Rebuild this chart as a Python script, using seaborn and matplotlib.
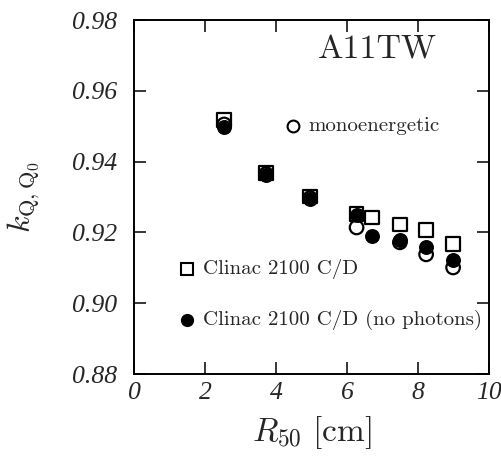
import matplotlib
matplotlib.use("Agg")
import matplotlib.pyplot as plt
import seaborn as sns
import pandas as pd

# ---- data ----
r50_clinac = [2.54, 3.72, 4.96, 6.27, 6.70, 7.49, 8.23, 8.99]
k_clinac = [0.9518, 0.9368, 0.9301, 0.9252, 0.9242, 0.9223, 0.9207, 0.9168]
r50_nophot = [2.54, 3.72, 4.96, 6.27, 6.70, 7.49, 8.23, 8.99]
k_nophot = [0.9497, 0.9363, 0.9294, 0.9250, 0.9191, 0.9178, 0.9159, 0.9121]
r50_mono = [2.54, 3.72, 4.96, 6.27, 7.49, 8.23, 8.99]
k_mono = [0.9505, 0.9365, 0.9297, 0.9214, 0.9172, 0.9138, 0.9101]

x_ticks = [0, 2, 4, 6, 8, 10]
y_ticks = [0.88, 0.90, 0.92, 0.94, 0.96, 0.98]
x_tick_labels = ["0", "2", "4", "6", "8", "10"]
y_tick_labels = ["0.88", "0.90", "0.92", "0.94", "0.96", "0.98"]

sns.set_style("ticks")
plt.rcParams["mathtext.fontset"] = "cm"
plt.rcParams["font.family"] = ["DejaVu Serif"]

fig = plt.figure(figsize=(5.02, 4.57), dpi=100)
ax = fig.add_axes([0.267, 0.1816, 0.707, 0.7746])

df_mono = pd.DataFrame({"x": r50_mono, "y": k_mono})
df_clinac = pd.DataFrame({"x": r50_clinac, "y": k_clinac})
df_noph = pd.DataFrame({"x": r50_nophot, "y": k_nophot})

ms = 95
sns.scatterplot(data=df_mono, x="x", y="y", ax=ax, marker="o", s=ms,
                facecolor="none", edgecolor="black", linewidth=1.6, zorder=3)
sns.scatterplot(data=df_clinac, x="x", y="y", ax=ax, marker="s", s=ms,
                facecolor="none", edgecolor="black", linewidth=1.6, zorder=4)
sns.scatterplot(data=df_noph, x="x", y="y", ax=ax, marker="o", s=ms,
                color="black", edgecolor="black", linewidth=1.0, zorder=5)

ax.set_xlim(0, 10)
ax.set_ylim(0.88, 0.98)
ax.set_xticks(x_ticks)
ax.set_yticks(y_ticks)
ax.set_xticklabels(x_tick_labels, fontfamily="Liberation Serif", fontstyle="italic", fontsize=18.5)
ax.set_yticklabels(y_tick_labels, fontfamily="Liberation Serif", fontstyle="italic", fontsize=18.5)
ax.tick_params(direction="in", length=8.5, width=1.3, top=True, right=True)
ax.tick_params(axis="y", pad=12)
ax.tick_params(axis="x", pad=6)
for s in ax.spines.values():
    s.set_visible(True)
    s.set_linewidth(1.4)
    s.set_color("black")

ax.set_xlabel(r"$R_{50}\ [\mathrm{cm}]$", fontsize=24, labelpad=7)
ax.set_ylabel(r"$k_{\mathrm{Q,Q_0}}$", fontsize=23, labelpad=22)

# in-plot key
txt_kw = dict(fontfamily="cmr10", fontsize=15, va="center", ha="left")
ax.plot([4.48], [0.9500], marker="o", ms=8.5, mfc="none", mec="black", mew=1.5, ls="none")
ax.text(4.90, 0.9500, "monoenergetic", **txt_kw)
ax.plot([1.49], [0.9098], marker="s", ms=8.5, mfc="none", mec="black", mew=1.5, ls="none")
ax.text(1.95, 0.9098, "Clinac 2100 C/D", **txt_kw)
ax.plot([1.49], [0.8953], marker="o", ms=8.5, mfc="black", mec="black", ls="none")
ax.text(1.95, 0.8953, "Clinac 2100 C/D (no photons)", **txt_kw)
ax.text(0.854, 0.915, "A11TW", transform=ax.transAxes, fontfamily="cmr10",
        fontsize=24.5, ha="right", va="center")

fig.savefig("out.png", dpi=100)
